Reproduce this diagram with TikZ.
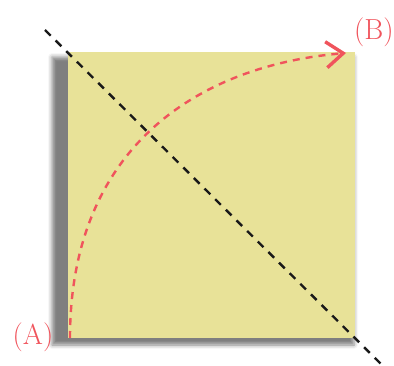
\documentclass[tikz,border=0pt]{standalone}
\usepackage{xcolor}
\usetikzlibrary{arrows.meta,shadows.blur}

\definecolor{noteyellow}{RGB}{232,226,152}
\definecolor{foldred}{RGB}{240,84,92}

\begin{document}
\begin{tikzpicture}[x=1pt,y=-1pt,
        note/.style={fill=noteyellow, minimum width=287pt, minimum height=286pt, inner sep=0pt},
        noteshadow/.style={blur shadow={shadow xshift=0pt, shadow yshift=0pt,
            shadow blur radius=4pt, shadow opacity=50}},
        foldline/.style={black!90, line width=2.4pt, dash pattern=on 8pt off 7pt},
        fliparc/.style={foldred, line width=2.4pt, dash pattern=on 7pt off 6pt,
            -{Straight Barb[length=17pt,width=26pt,line width=3.4pt]}},
        corner/.style={text=foldred, font=\fontsize{29}{32}\selectfont, inner sep=0pt}]
        \useasboundingbox (0,0) rectangle (394,366);

        % shadow under the note, larger than the note itself
        \path[noteshadow] (52,57) rectangle (354,345);
        \node[note] (note) at (211.5,195) {};

        \coordinate (start) at (70,338);
        \coordinate (tip) at (346,53);
        \coordinate (d1) at (45,30);
        \coordinate (d2) at (385,368);

        \node[corner] (A) at (33,337) {(A)};
        \node[corner, anchor=west] (B) at (354,32) {(B)};

        \draw[fliparc] (start) .. controls (70,150) and (195,66) .. (tip);
        \draw[foldline] (d1) -- (d2);

\end{tikzpicture}
\end{document}
